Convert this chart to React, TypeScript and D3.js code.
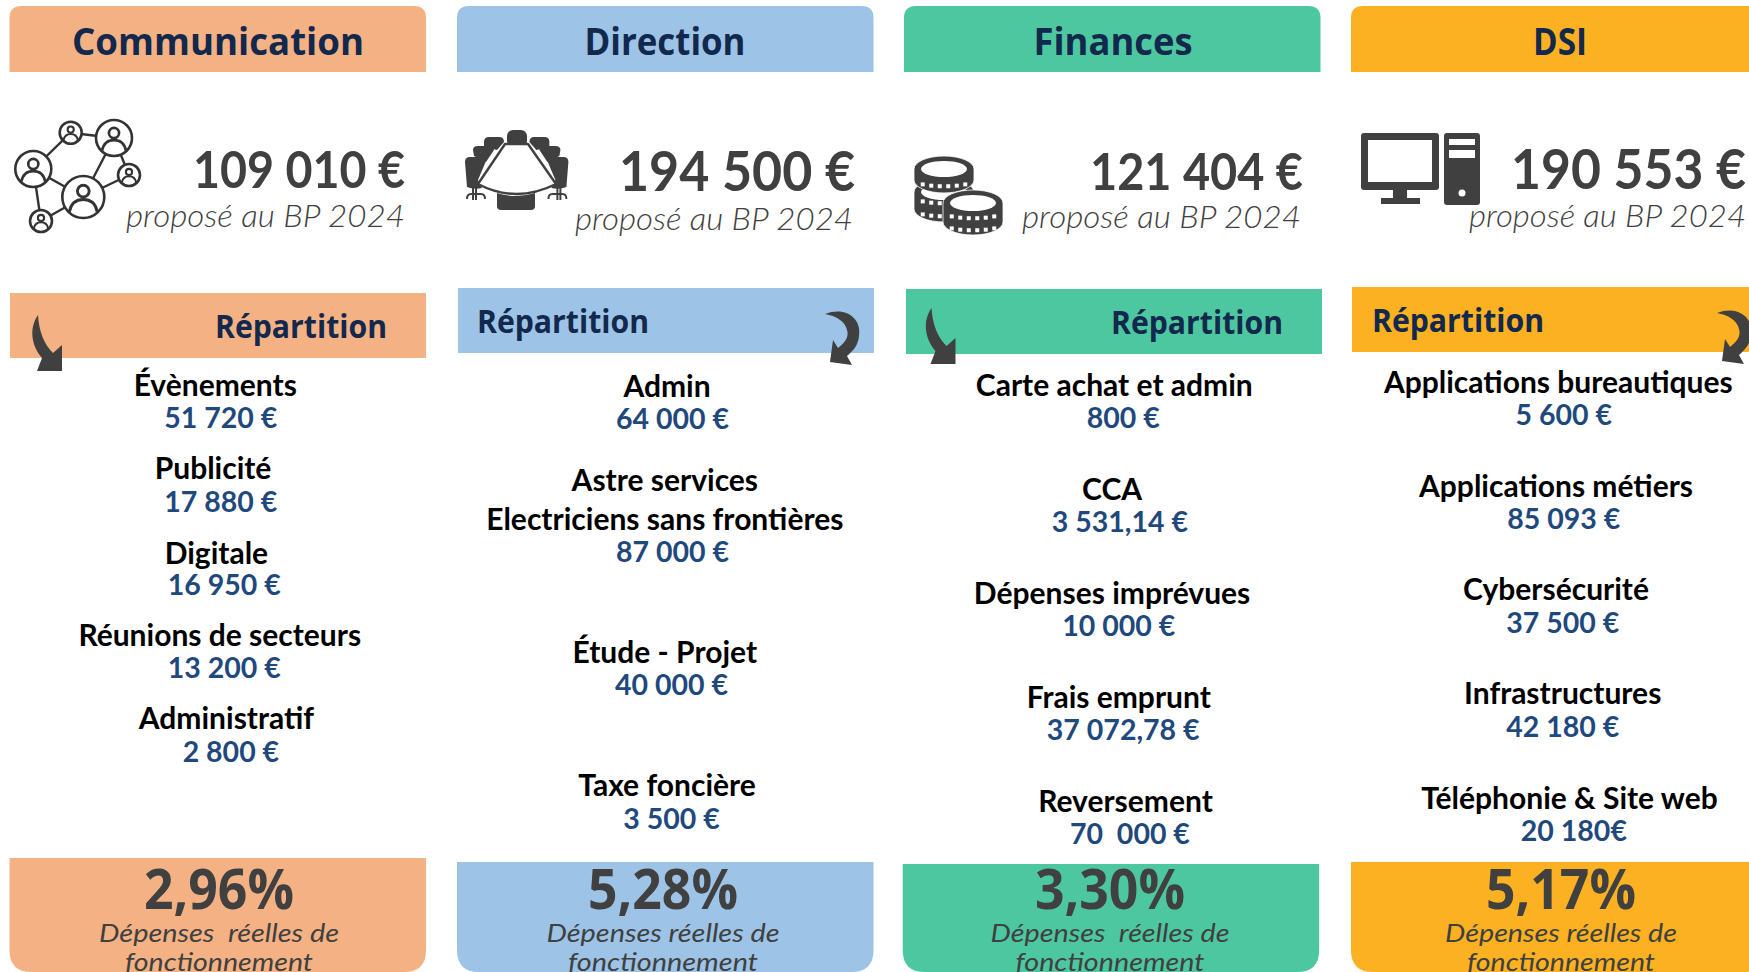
import React from "react";
import * as d3 from "d3";

const departments = ["Communication", "Direction", "Finances", "DSI"];
const totals = ["109 010 €", "194 500 €", "121 404 €", "190 553 €"];
const shares = ["2,96%", "5,28%", "3,30%", "5,17%"];
const footerFirstLines = ["Dépenses  réelles de", "Dépenses réelles de", "Dépenses  réelles de", "Dépenses réelles de"];
const colors = ["#F4B183", "#9DC3E6", "#4DC79F", "#FBB122"];

const commLabels = ["Évènements", "Publicité", "Digitale", "Réunions de secteurs", "Administratif"];
const commValues = ["51 720 €", "17 880 €", "16 950 €", "13 200 €", "2 800 €"];
const dirLabels = ["Admin", "Astre services\nElectriciens sans frontières", "Étude - Projet", "Taxe foncière"];
const dirValues = ["64 000 €", "87 000 €", "40 000 €", "3 500 €"];
const finLabels = ["Carte achat et admin", "CCA", "Dépenses imprévues", "Frais emprunt", "Reversement"];
const finValues = ["800 €", "3 531,14 €", "10 000 €", "37 072,78 €", "70  000 €"];
const dsiLabels = ["Applications bureautiques", "Applications métiers", "Cybersécurité", "Infrastructures", "Téléphonie & Site web"];
const dsiValues = ["5 600 €", "85 093 €", "37 500 €", "42 180 €", "20 180€"];
const itemLabels = [commLabels, dirLabels, finLabels, dsiLabels];
const itemValues = [commValues, dirValues, finValues, dsiValues];

// layout, in the 1568-wide reading of the picture
const labelPos = [
  [[193, 345], [191, 419], [194, 495], [197, 569], [203, 643]],
  [[598, 346], [596, 430], [596, 584], [598, 703]],
  [[999, 345], [997, 438], [997, 531], [1003, 624], [1009, 718]],
  [[1397, 342], [1395, 435], [1395, 528], [1401, 621], [1407, 715]],
];
const valuePos = [
  [[198, 374], [198, 449], [201, 524], [201, 598], [207, 673]],
  [[603, 375], [603, 494], [602, 613], [602, 733]],
  [[1007, 374], [1004, 467], [1003, 560], [1007, 654], [1013, 747]],
  [[1402, 371], [1402, 464], [1401, 558], [1401, 651], [1411, 744]],
];
const sx = d3.scaleLinear().domain([0, 1568]).range([0, 1749]);
const panelX = [9.5, 457, 904, 1351];
const panelW = 416.5;
const repX = [10, 458, 906, 1352];
const repY = [293, 288, 289, 287];
const footX = [9.5, 457, 902.7, 1351];
const footY = [858, 862, 864, 862];
const totalPos = [[405, 168.5], [855, 170], [1303, 170.5], [1746, 168]];
const totalSize = [51, 55, 51, 55];
const totalLen = [212, 236, 213, 235];
const subPos = [[405, 215], [853, 218], [1301, 216], [1746, 215]];
const subLen = [279, 278, 279, 277];
const repTextX = [[387, "end"], [477, "start"], [1283, "end"], [1372, "start"]] as const;
const titleCx = [218, 665, 1113, 1560];
const titleLen = [292, 161, 159, 54];
const footCx = [219, 663, 1110, 1561];
const footLen1 = [240, 233, 239, 232];
const footLen2 = [188, 190, 189, 188];
const arrowOffset = [[0, 0], [0, 0], [893.5, -7], [892, -1]];
const coinStacks = [
  { cx: 944, cy: 192, h: 17, rows: [8, 21] },
  { cx: 944, cy: 169, h: 11, rows: [14] },
  { cx: 973, cy: 203, h: 19, rows: [12, 24] },
];

const NAVY = "#12284C";
const BLUE = "#1F497D";
const GRAY = "#404040";
const BODY = "Lato, sans-serif";
const DISPLAY = "'Open Sans', Lato, sans-serif";

const topRound = (x: number, y: number, w: number, h: number, r: number) =>
  `M${x},${y + h}V${y + r}Q${x},${y} ${x + r},${y}H${x + w - r}Q${x + w},${y} ${x + w},${y + r}V${y + h}Z`;
const bottomRound = (x: number, y: number, w: number, h: number, r: number) =>
  `M${x},${y}H${x + w}V${y + h - r}Q${x + w},${y + h} ${x + w - r},${y + h}H${x + r}Q${x},${y + h} ${x},${y + h - r}Z`;

function Person({ cx, cy, r }: { cx: number; cy: number; r: number }) {
  const sw = 1.2 + r * 0.08;
  return (
    <g fill="none" stroke="#333" strokeWidth={sw}>
      <circle cx={cx} cy={cy} r={r} fill="#fff" strokeWidth={2.6} />
      <circle cx={cx} cy={cy - r * 0.28} r={r * 0.28} />
      <path d={`M${cx - r * 0.66},${cy + r * 0.7}Q${cx - r * 0.55},${cy + r * 0.12} ${cx},${cy + r * 0.12}Q${cx + r * 0.55},${cy + r * 0.12} ${cx + r * 0.66},${cy + r * 0.7}`} />
    </g>
  );
}
const netNodes = [[70.7, 132.7, 11], [114, 138, 18], [33.3, 169, 18], [129, 175, 11], [83.3, 197, 21], [41, 221, 11]];
const netEdges = [[0, 1], [0, 2], [1, 3], [1, 4], [2, 4], [2, 5], [3, 4], [4, 5]];
function NetworkIcon() {
  return (
    <g>
      {netEdges.map(([a, b], i) => (
        <line key={i} x1={netNodes[a][0]} y1={netNodes[a][1]} x2={netNodes[b][0]} y2={netNodes[b][1]} stroke="#333" strokeWidth={2.4} />
      ))}
      {netNodes.map(([cx, cy, r], i) => <Person key={i} cx={cx} cy={cy} r={r} />)}
    </g>
  );
}
function TableSide() {
  return (
    <g fill={GRAY}>
      <path d="M484,142Q484,137 489,137H499Q504,137 504,142L497,150L484,147Z" />
      <path d="M473,150Q473,146 478,146H489Q494,146 494,150L486,162L474,156Z" />
      <path d="M465,162Q465,157 470,157H481Q486,157 486,161L478,180L482,188Q474,190 467,187Z" />
      <path d="M467,199Q467,194 471,194H481Q485,194 485,199" fill="none" stroke={GRAY} strokeWidth={2} />
      <path d="M473,188V200M476,188V200" fill="none" stroke={GRAY} strokeWidth={2} />
    </g>
  );
}
function TableIcon() {
  return (
    <g>
      <rect x={507} y={130} width={20} height={17} rx={6} fill={GRAY} />
      <TableSide />
      <g transform="translate(1033.4,0) scale(-1,1)"><TableSide /></g>
      <path d="M497,193Q516,199 535,193V206Q535,210 531,210H501Q497,210 497,206Z" fill={GRAY} />
      <path d="M505,144H528L556,184Q516,204 478,184Z" fill="#fff" stroke={GRAY} strokeWidth={2.4} strokeLinejoin="round" />
    </g>
  );
}
function Coin({ cx, cy, h, rows }: { cx: number; cy: number; h: number; rows: number[] }) {
  const rx = 30, ry = 13;
  const teeth = d3.range(-2.5, 3).map((k) => k * 8.5);
  return (
    <g>
      <path d={`M${cx - rx},${cy}A${rx},${ry} 0 0 1 ${cx + rx},${cy}V${cy + h}A${rx},${ry} 0 0 1 ${cx - rx},${cy + h}Z`} fill={GRAY} stroke="#fff" strokeWidth={0.8} />
      <ellipse cx={cx} cy={cy} rx={rx - 7} ry={ry - 5} fill="#fff" />
      {rows.map((r) =>
        teeth.map((d) => {
          const y = cy + r - ry * 0.4 + ry * Math.sqrt(1 - (d / rx) ** 2) * 0.5;
          return <rect key={`${r}-${d}`} x={cx + d - 2} y={y} width={4} height={4} fill="#fff" />;
        }),
      )}
    </g>
  );
}
function CoinsIcon() {
  return <g>{coinStacks.map((c, i) => <Coin key={i} {...c} />)}</g>;
}
function ComputerIcon() {
  return (
    <g fill={GRAY}>
      <path fillRule="evenodd" d="M1364,133H1436Q1439,133 1439,136V187Q1439,190 1436,190H1364Q1361,190 1361,187V136Q1361,133 1364,133ZM1368,140V182H1432V140Z" />
      <rect x={1393} y={190} width={14} height={8} />
      <rect x={1381} y={198} width={39} height={6} />
      <rect x={1444} y={133} width={36} height={72} rx={3} />
      <rect x={1449} y={139} width={26} height={6} fill="#fff" />
      <rect x={1449} y={150} width={26} height={8} fill="#fff" />
      <circle cx={1462} cy={193} r={3.5} fill="#fff" />
    </g>
  );
}
const arrowLeft = "M38,315C29,328 31,345 42,358L37,371H62V345L53,353C44,344 39,332 38,315Z";
const arrowRight = "M825,314C845,306 862,318 859,336C858,345 854,350 847,356L852,365L830,362L833,340L838,348C846,342 849,336 847,330C845,321 836,316 825,314Z";
const arrows = [arrowLeft, arrowRight, arrowLeft, arrowRight];

export default function App() {
  return (
    <svg width={1749} height={972} viewBox="0 0 1749 972" style={{ position: "absolute", left: 0, top: 0, background: "#fff" }}>
      {departments.map((name, i) => {
        const x = panelX[i];
        return (
          <g key={name}>
            <path d={topRound(x, 6, panelW, 66, 12)} fill={colors[i]} />
            <text x={titleCx[i]} y={40} textAnchor="middle" dominantBaseline="central" fontFamily={DISPLAY} fontWeight={700} fontSize={37} fill={NAVY} textLength={titleLen[i]} lengthAdjust="spacingAndGlyphs">{name}</text>
            <text x={totalPos[i][0]} y={totalPos[i][1]} textAnchor="end" dominantBaseline="central" fontFamily={BODY} fontWeight={700} fontSize={totalSize[i]} fill={GRAY} textLength={totalLen[i]} lengthAdjust="spacingAndGlyphs">{totals[i]}</text>
            <text x={subPos[i][0]} y={subPos[i][1]} textAnchor="end" dominantBaseline="central" fontFamily={BODY} fontWeight={300} fontStyle="italic" fontSize={31} fill={GRAY} textLength={subLen[i]} lengthAdjust="spacingAndGlyphs">proposé au BP 2024</text>
            <rect x={repX[i]} y={repY[i]} width={416} height={65} fill={colors[i]} />
            <text x={repTextX[i][0]} y={repY[i] + 32} textAnchor={repTextX[i][1]} dominantBaseline="central" fontFamily={DISPLAY} fontWeight={700} fontSize={33} fill={NAVY} textLength={172} lengthAdjust="spacingAndGlyphs">Répartition</text>
            {itemLabels[i].map((label, j) => {
              const lines = label.split("\n");
              const [lx, ly] = labelPos[i][j];
              return lines.map((t, k) => (
                <text key={`${j}-${k}`} x={sx(lx)} y={sx(ly) - 0.5 + k * 39} textAnchor="middle" dominantBaseline="central" fontFamily={BODY} fontWeight={700} fontSize={30} fill="#000">{t}</text>
              ));
            })}
            {itemValues[i].map((v, j) => (
              <text key={j} x={sx(valuePos[i][j][0])} y={sx(valuePos[i][j][1])} textAnchor="middle" dominantBaseline="central" fontFamily={BODY} fontWeight={700} fontSize={28.5} fill={BLUE} xmlSpace="preserve">{v}</text>
            ))}
            <path d={bottomRound(footX[i], footY[i], panelW, 972 - footY[i], 22)} fill={colors[i]} />
            <text x={footCx[i]} y={887} textAnchor="middle" dominantBaseline="central" fontFamily={DISPLAY} fontWeight={700} fontSize={56} fill={GRAY} textLength={150} lengthAdjust="spacingAndGlyphs">{shares[i]}</text>
            <text x={footCx[i]} y={932} textAnchor="middle" dominantBaseline="central" fontFamily={BODY} fontWeight={400} fontStyle="italic" fontSize={26} fill={GRAY} xmlSpace="preserve" textLength={footLen1[i]} lengthAdjust="spacingAndGlyphs">{footerFirstLines[i]}</text>
            <text x={footCx[i]} y={961} textAnchor="middle" dominantBaseline="central" fontFamily={BODY} fontWeight={400} fontStyle="italic" fontSize={25} fill={GRAY} textLength={footLen2[i]} lengthAdjust="spacingAndGlyphs">fonctionnement</text>
            <path d={arrows[i]} fill={GRAY} transform={`translate(${arrowOffset[i][0]},${arrowOffset[i][1]})`} />
          </g>
        );
      })}
      <NetworkIcon />
      <TableIcon />
      <CoinsIcon />
      <ComputerIcon />
    </svg>
  );
}
